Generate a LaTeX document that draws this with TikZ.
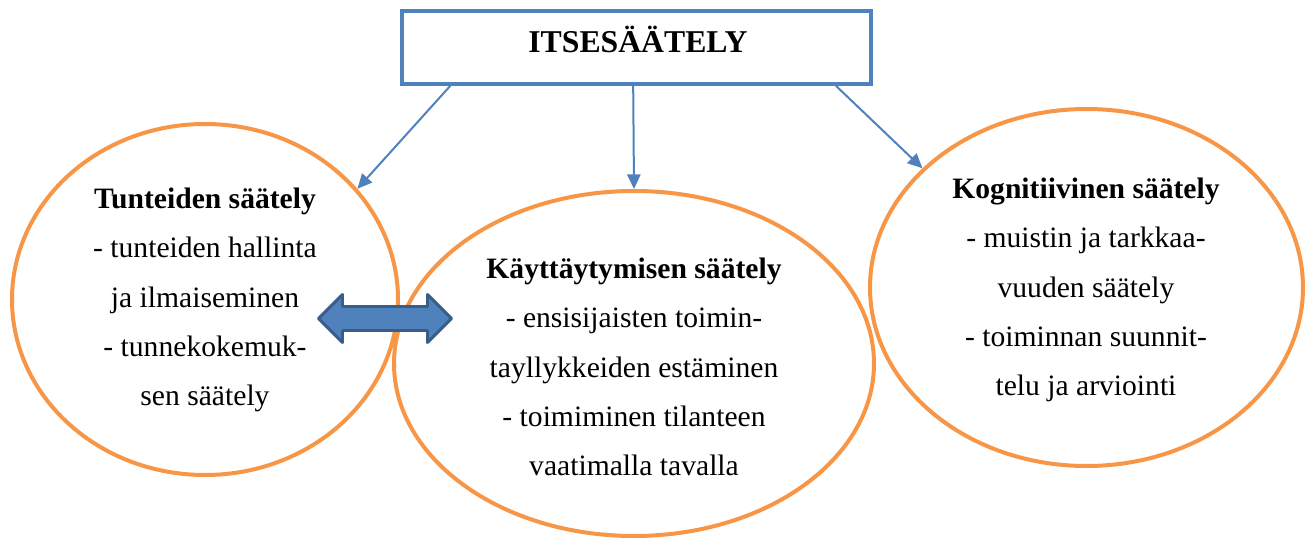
\documentclass[tikz,border=0pt]{standalone}
\usepackage{fontspec}
\setmainfont{Liberation Serif}
\usetikzlibrary{calc,shapes.geometric,arrows.meta}
\definecolor{boxblue}{HTML}{4F81BD}
\definecolor{edgeblue}{HTML}{385D8A}
\definecolor{ringorange}{HTML}{F79646}

\begin{document}
\begin{tikzpicture}[x=0.75pt, y=-0.75pt, align=center,
    every node/.style={font=\fontsize{22.2}{37}\selectfont},
    ring/.style={ellipse, draw=ringorange, line width=3pt},
    link/.style={draw=boxblue, line width=1.5pt, -{Triangle[length=11pt,width=10pt]}}]
    \useasboundingbox (0,0) rectangle (1311,542);

    \node[draw=boxblue, line width=2.6pt, minimum width=352pt, minimum height=55pt] (itse) at (636.5,47.5) {};
    \node[anchor=base, font=\fontsize{23.8}{28}\selectfont\bfseries] (otsikko) at (638,53) {ITSESÄÄTELY};

    \node[ring, minimum width=289.5pt, minimum height=263.25pt] (tunne) at (205,299.5) {};
    \node[ring, minimum width=360pt, minimum height=258.75pt] (kayt) at (634,363.5) {};
    \node[ring, minimum width=324.75pt, minimum height=267.75pt] (kogn) at (1086.5,287.5) {};

    \node (tunneteksti) at (205,300) {\textbf{Tunteiden säätely}\\- tunteiden hallinta\\ja ilmaiseminen\\- tunnekokemuk-\\sen säätely};
    \node (kaytteksti) at (634,367) {\textbf{Käyttäytymisen säätely}\\- ensisijaisten toimin-\\tayllykkeiden estäminen\\- toimiminen tilanteen\\vaatimalla tavalla};
    \node (kognteksti) at (1086,290) {\textbf{Kognitiivinen säätely}\\- muistin ja tarkkaa-\\vuuden säätely\\- toiminnan suunnit-\\telu ja arviointi};

    \draw[link] ($(itse.south west)!0.106!(itse.south east)$) -- (tunne.36);
    \draw[link] ($(itse.south west)!0.493!(itse.south east)$) -- (kayt.north);
    \draw[link] ($(itse.south west)!0.922!(itse.south east)$) -- (kogn.144);

    \coordinate (vuoro) at (385,318.5);
    \draw[draw=edgeblue, fill=boxblue, line width=2.2pt, line join=round, shift={(vuoro)}]
        (-66.5,0) -- (-42.5,-24) -- (-42.5,-12) -- (42.5,-12) -- (42.5,-24) -- (66.5,0)
        -- (42.5,24) -- (42.5,12) -- (-42.5,12) -- (-42.5,24) -- cycle;
\end{tikzpicture}
\end{document}
